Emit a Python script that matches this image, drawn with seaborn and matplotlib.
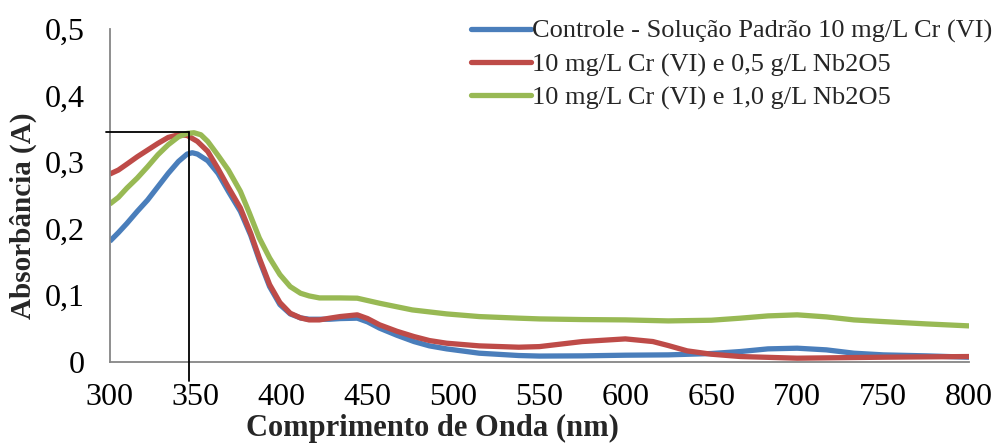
import matplotlib
matplotlib.use("Agg")
import matplotlib.pyplot as plt
import seaborn as sns
import pandas as pd
from matplotlib.ticker import FuncFormatter
from matplotlib.lines import Line2D

# Absorbance spectra (wavelength in nm, absorbance in A)
wl_controle = [300, 305, 310, 316, 322, 328, 334, 340, 345, 348, 351, 357, 363, 369, 376, 382,
               387, 393, 399, 405, 411, 416, 422, 428, 434, 444, 450, 457, 467, 477, 486, 496,
               515, 538, 550, 575, 600, 625, 650, 667, 683, 700, 717, 733, 750, 775, 800]
abs_controle = [0.181, 0.194, 0.208, 0.226, 0.243, 0.263, 0.283, 0.301, 0.312, 0.314, 0.312,
                0.302, 0.283, 0.256, 0.226, 0.190, 0.153, 0.113, 0.086, 0.072, 0.066, 0.064,
                0.064, 0.064, 0.065, 0.0656, 0.060, 0.0506, 0.040, 0.0305, 0.024, 0.0195,
                0.013, 0.0095, 0.0087, 0.009, 0.010, 0.0105, 0.0125, 0.0155, 0.0195, 0.0205,
                0.018, 0.013, 0.0105, 0.009, 0.007]

wl_nb05 = [300, 305, 310, 316, 322, 328, 334, 340, 345, 351, 357, 363, 369, 376, 382, 387,
           393, 399, 405, 411, 416, 422, 428, 434, 444, 450, 457, 467, 477, 486, 496, 515,
           538, 550, 575, 600, 616, 625, 636, 650, 667, 700, 750, 800]
abs_nb05 = [0.282, 0.288, 0.297, 0.308, 0.318, 0.328, 0.337, 0.341, 0.340, 0.331, 0.316,
            0.290, 0.262, 0.231, 0.193, 0.156, 0.116, 0.089, 0.073, 0.066, 0.063, 0.063,
            0.0656, 0.068, 0.0706, 0.065, 0.0556, 0.046, 0.038, 0.032, 0.028, 0.024,
            0.022, 0.0229, 0.0305, 0.0345, 0.0305, 0.0245, 0.0165, 0.0115, 0.008, 0.0055,
            0.007, 0.008]

wl_nb10 = [300, 305, 310, 316, 322, 328, 334, 340, 345, 349, 353, 357, 363, 369, 376, 381,
           387, 393, 399, 405, 411, 416, 422, 434, 444, 457, 476, 496, 515, 538, 550, 575,
           600, 625, 650, 667, 683, 700, 717, 733, 750, 775, 800]
abs_nb10 = [0.237, 0.247, 0.261, 0.276, 0.293, 0.311, 0.326, 0.338, 0.343, 0.344, 0.341,
            0.331, 0.310, 0.288, 0.256, 0.225, 0.186, 0.156, 0.131, 0.113, 0.103, 0.099,
            0.096, 0.096, 0.0956, 0.088, 0.078, 0.072, 0.068, 0.0656, 0.0645, 0.0635,
            0.063, 0.0615, 0.0625, 0.0656, 0.069, 0.0706, 0.0675, 0.063, 0.0605, 0.057, 0.054]

series_names = ["Controle - Solução Padrão 10 mg/L Cr (VI)",
                "10 mg/L Cr (VI) e 0,5 g/L Nb2O5",
                "10 mg/L Cr (VI) e 1,0 g/L Nb2O5"]
series_colors = ["#4A7EBB", "#BE4B48", "#98B954"]

# Peak marker (wavelength, absorbance)
peak_wl = 346
peak_abs = 0.345

x_ticks = [300, 350, 400, 450, 500, 550, 600, 650, 700, 750, 800]
y_ticks = [0, 0.1, 0.2, 0.3, 0.4, 0.5]

frames = []
for name, wl, ab in zip(series_names,
                        [wl_controle, wl_nb05, wl_nb10],
                        [abs_controle, abs_nb05, abs_nb10]):
    frames.append(pd.DataFrame({"wl": wl, "abs": ab, "serie": name}))
df = pd.concat(frames, ignore_index=True)

sns.set_style("white")
plt.rcParams["font.family"] = ["Liberation Serif", "DejaVu Serif"]

fig = plt.figure(figsize=(9.98, 4.44), dpi=100)
ax = fig.add_axes([0.110, 0.185, 0.861, 0.750])

sns.lineplot(data=df, x="wl", y="abs", hue="serie", hue_order=series_names,
             palette=series_colors, linewidth=3.8, ax=ax, legend=False, sort=False,
             solid_joinstyle="round", solid_capstyle="butt")

# Peak guide lines
ax.plot([298, peak_wl], [peak_abs, peak_abs], color="black", lw=1.3, clip_on=False, zorder=5)
ax.plot([peak_wl, peak_wl], [peak_abs, -0.028], color="black", lw=1.3, clip_on=False, zorder=5)

ax.set_xlim(300, 800)
ax.set_ylim(0, 0.5)
ax.set_xticks(x_ticks)
ax.set_yticks(y_ticks)
ax.yaxis.set_major_formatter(FuncFormatter(lambda v, p: "0" if v == 0 else f"{v:.1f}".replace(".", ",")))

for side in ["top", "right"]:
    ax.spines[side].set_visible(False)
for side in ["left", "bottom"]:
    ax.spines[side].set_color("#868686")
    ax.spines[side].set_linewidth(1.3)
ax.tick_params(axis="both", direction="out", length=7, width=1.3, color="#868686",
               labelsize=23, labelcolor="black")
ax.tick_params(axis="x", pad=8)
ax.tick_params(axis="y", pad=11)

ax.set_xlabel("Comprimento de Onda (nm)", fontsize=22, fontweight="bold", labelpad=0)
ax.xaxis.set_label_coords(0.375, -0.157)
ax.set_ylabel("Absorbância (A)", fontsize=21, fontweight="bold", labelpad=0)
ax.yaxis.set_label_coords(-0.085, 0.44)

handles = [Line2D([0], [0], color=c, lw=3.8) for c in series_colors]
fig.legend(handles, series_names, loc="upper right", bbox_to_anchor=(1.0, 0.968),
           frameon=False, fontsize=19, handlelength=2.27, handletextpad=0.05,
           labelspacing=0.35, borderpad=0.2, borderaxespad=0)

fig.savefig("out.png", dpi=100)
